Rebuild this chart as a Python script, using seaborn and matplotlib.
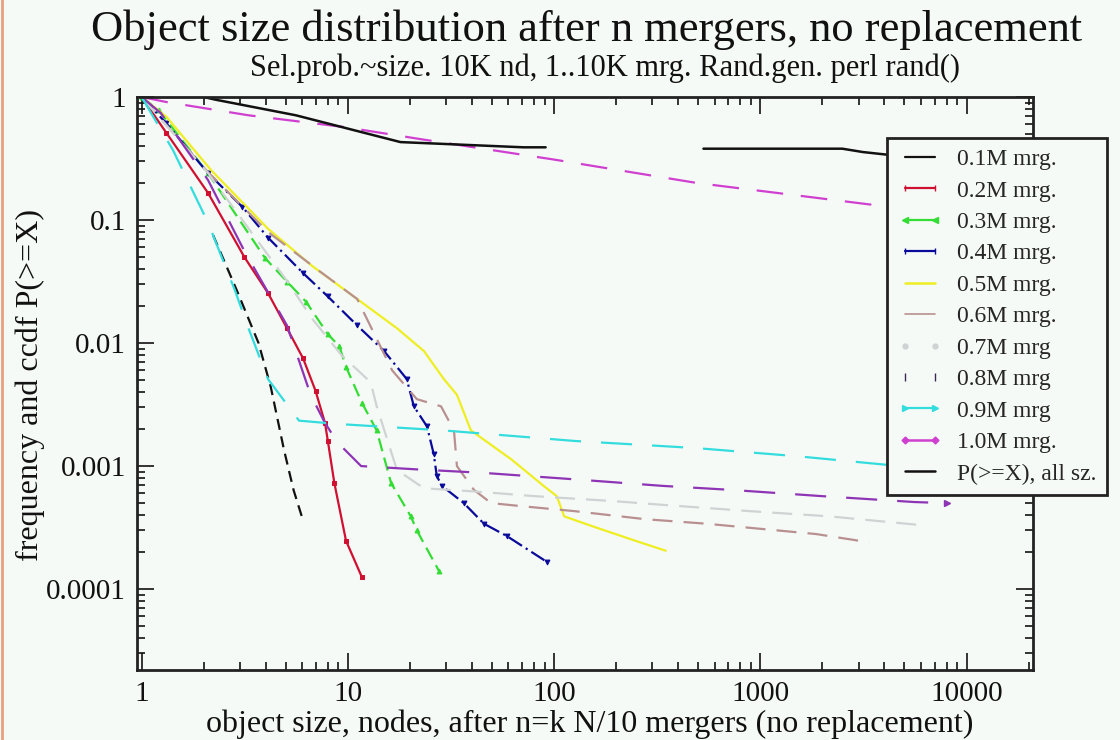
import numpy as np
import pandas as pd
import seaborn as sns
import matplotlib
matplotlib.use("Agg")
import matplotlib.pyplot as plt
from matplotlib.lines import Line2D
from matplotlib.ticker import FixedLocator, LogLocator, NullFormatter

# ---- data (x = object size, y = frequency / ccdf) ----
x_01 = [2.22, 2.89, 3.69, 4.23, 4.91, 5.46, 6.07]
y_01 = [0.0756, 0.027, 0.01, 0.0044, 0.00134, 0.000636, 0.00036]

x_02 = [1.0, 1.32, 2.1, 3.15, 4.1, 5.07, 6.07, 6.97, 7.75, 8.0, 8.6, 9.8, 11.7]
y_02 = [1.0, 0.51, 0.166, 0.05, 0.0255, 0.0132, 0.0075, 0.0041, 0.00224, 0.0016, 0.00073, 0.000247, 0.000125]

x_03 = [1.0, 1.21, 2.1, 3.97, 5.07, 6.27, 8.0, 9.1, 9.8, 11.7, 13.8, 16.2, 20.2, 21.6, 27.7]
y_03 = [1.0, 0.78, 0.24, 0.049, 0.0316, 0.0217, 0.0118, 0.0094, 0.0064, 0.00327, 0.00195, 0.00073, 0.00039, 0.0003, 0.00014]

x_04 = [1.0, 1.32, 2.1, 3.08, 4.1, 6.07, 8.0, 11.1, 15.0, 19.3, 20.9, 24.2, 26.1, 27.0, 28.6, 36.5, 45.7, 59.0, 92.5]
y_04 = [1.0, 0.61, 0.24, 0.128, 0.072, 0.037, 0.0239, 0.0139, 0.0086, 0.0051, 0.00306, 0.0021, 0.00125, 0.00083, 0.00069, 0.0005, 0.00034, 0.00027, 0.000166]

x_05 = [1.0, 1.32, 2.17, 4.1, 6.75, 11.1, 17.3, 23.4, 29.2, 33.8, 39.5, 61.8, 89.0, 103.0, 112.0, 157.0, 248.0, 348.0]
y_05 = [1.0, 0.69, 0.255, 0.085, 0.042, 0.0228, 0.0132, 0.0086, 0.0051, 0.0038, 0.00195, 0.00114, 0.00069, 0.00057, 0.00039, 0.00032, 0.000247, 0.000205]

x_06 = [1.0, 2.1, 4.1, 7.2, 11.1, 16.4, 21.6, 28.3, 32.7, 33.8, 40.9, 49.5, 71.5, 126.0, 277.0, 548.0, 1870.0, 3370.0]
y_06 = [1.0, 0.245, 0.08, 0.039, 0.0228, 0.006, 0.0035, 0.00306, 0.00195, 0.001, 0.00064, 0.0005, 0.00047, 0.00043, 0.00037, 0.00034, 0.00028, 0.00024]

x_07 = [1.0, 2.1, 5.07, 6.75, 9.3, 12.9, 13.8, 17.3, 23.4, 42.3, 80.0, 191.0, 360.0, 893.0, 2170.0, 6150.0]
y_07 = [1.0, 0.24, 0.032, 0.0156, 0.008, 0.0048, 0.00306, 0.00093, 0.00066, 0.00062, 0.00057, 0.00052, 0.00048, 0.00043, 0.00039, 0.00033]

x_08 = [1.0, 1.24, 2.1, 3.15, 5.07, 6.6, 7.75, 8.9, 11.6, 21.6, 45.7, 126.0, 337.0, 728.0, 1980.0, 5600.0, 8000.0]
y_08 = [1.0, 0.74, 0.211, 0.056, 0.0139, 0.0038, 0.00224, 0.00156, 0.001, 0.00094, 0.00088, 0.00078, 0.00069, 0.00064, 0.00057, 0.00051, 0.0005]

x_09 = [1.0, 1.42, 2.1, 2.83, 3.32, 4.1, 5.8, 8.9, 29.0, 126.0, 490.0, 1530.0, 4200.0, 9700.0]
y_09 = [1.0, 0.37, 0.095, 0.027, 0.0128, 0.0051, 0.00234, 0.0022, 0.00195, 0.0016, 0.0014, 0.0012, 0.00102, 0.00094]

x_10 = [1.0, 1.32, 3.3, 9.6, 23.4, 100.0, 493.0, 4200.0, 9900.0]
y_10 = [1.0, 0.91, 0.71, 0.57, 0.45, 0.31, 0.20, 0.128, 0.105]

# P(>=X), all sizes: two pieces with a gap between ~90 and ~530
x_all_a = [2.0, 2.29, 5.6, 18.0, 71.0, 91.0]
y_all_a = [1.0, 0.95, 0.71, 0.43, 0.39, 0.39]
x_all_b = [530.0, 2500.0, 3140.0, 4100.0, 9000.0]
y_all_b = [0.38, 0.38, 0.357, 0.34, 0.33]

labels = ["0.1M mrg.", "0.2M mrg.", "0.3M mrg.", "0.4M mrg.", "0.5M mrg.",
          "0.6M mrg.", "0.7M mrg", "0.8M mrg", "0.9M mrg", "1.0M mrg.",
          "P(>=X), all sz."]

BG = "#f6faf7"
sns.set_theme(style="ticks")
plt.rcParams["font.family"] = ["Liberation Serif", "DejaVu Serif"]

fig = plt.figure(figsize=(11.2, 7.4), dpi=100, facecolor=BG)
ax = fig.add_axes([137 / 1120, 1 - 670 / 740, (1033 - 137) / 1120, (670 - 97) / 740])
ax.set_facecolor(BG)
ax.set_xscale("log")
ax.set_yscale("log")

# (x, y, color, linestyle, marker, markersize)
series = [
    (x_01, y_01, "#111111", (0, (5, 3)), None, 0),
    (x_02, y_02, "#d01030", "-", "s", 3),
    (x_03, y_03, "#33dd33", (0, (6, 3)), "^", 3.5),
    (x_04, y_04, "#0a0a9a", (0, (7, 2, 1, 2)), "v", 3.5),
    (x_05, y_05, "#eeee22", "-", None, 0),
    (x_06, y_06, "#b89090", (0, (9, 5)), None, 0),
    (x_07, y_07, "#cfd3d3", (0, (9, 5)), None, 0),
    (x_08, y_08, "#8e35b5", (0, (14, 9)), None, 0),
    (x_09, y_09, "#33dddd", (0, (14, 9)), None, 0),
    (x_10, y_10, "#d040d0", (0, (12, 8)), None, 0),
]
for xs, ys, col, ls, mk, ms in series:
    sns.lineplot(x=xs, y=ys, ax=ax, color=col, linestyle=ls, linewidth=1.6,
                 marker=mk, markersize=ms, markeredgecolor=col, sort=False,
                 estimator=None, legend=False)

for xs, ys in [(x_all_a, y_all_a), (x_all_b, y_all_b)]:
    sns.lineplot(x=xs, y=ys, ax=ax, color="#111111", linewidth=1.8,
                 sort=False, estimator=None, legend=False)

# end arrow of the 0.8M curve
ax.plot([x_08[-1]], [y_08[-1]], marker=">", color="#8e35b5", markersize=5)

ax.set_xlim(0.95, 21000)
ax.set_ylim(2.2e-5, 1.0)

ax.xaxis.set_major_locator(FixedLocator([1, 10, 100, 1000, 10000]))
ax.set_xticklabels(["1", "10", "100", "1000", "10000"])
ax.yaxis.set_major_locator(FixedLocator([1, 0.1, 0.01, 0.001, 0.0001]))
ax.set_yticklabels(["1", "0.1", "0.01", "0.001", "0.0001"])
for axis in (ax.xaxis, ax.yaxis):
    axis.set_minor_locator(LogLocator(base=10, subs=np.arange(2, 10), numticks=20))
    axis.set_minor_formatter(NullFormatter())

ax.tick_params(which="both", direction="in", top=True, right=True,
               colors="#111111", labelsize=21, width=1.2, pad=8)
ax.tick_params(which="major", length=12)
ax.tick_params(which="minor", length=6)
for sp in ax.spines.values():
    sp.set_color("#222222")
    sp.set_linewidth(2)

ax.set_xlabel("")
ax.set_ylabel("")
fig.text(30 / 1120, 1 - 385 / 740, "frequency and ccdf P(>=X)", rotation=90,
         ha="center", va="center", fontsize=23, color="#111111")
fig.text(590 / 1120, 1 - 724 / 740, "object size, nodes, after n=k N/10 mergers (no replacement)",
         ha="center", va="center", fontsize=23, color="#111111")

fig.text(587 / 1120, 1 - 30 / 740, "Object size distribution after n mergers, no replacement",
         ha="center", va="center", fontsize=32, color="#111111")
fig.text(605 / 1120, 1 - 68 / 740, "Sel.prob.~size. 10K nd, 1..10K mrg. Rand.gen. perl rand()",
         ha="center", va="center", fontsize=22, color="#111111")

# legend with the reference's small handle glyphs
handles = [
    Line2D([], [], color="#111111", lw=1.6),
    Line2D([], [], color="#d01030", lw=1.6, marker="|", ms=4),
    Line2D([], [], color="#33dd33", lw=1.6, marker="<", ms=4),
    Line2D([], [], color="#0a0a9a", lw=1.6, marker="|", ms=4),
    Line2D([], [], color="#eeee22", lw=1.8),
    Line2D([], [], color="#b89090", lw=1.2),
    Line2D([], [], color="#cfd3d3", lw=0, marker="o", ms=3.5, linestyle="none"),
    Line2D([], [], color="#3a2a50", lw=0, marker="|", ms=6, linestyle="none"),
    Line2D([], [], color="#33dddd", lw=1.6, marker=">", ms=4),
    Line2D([], [], color="#d040d0", lw=1.8, marker="D", ms=3.5),
    Line2D([], [], color="#111111", lw=1.8),
]
leg = fig.legend(handles, labels, loc="upper left", bbox_to_anchor=(887 / 1120, 1 - 138 / 740),
                 fontsize=17, numpoints=2, handlelength=1.9, handletextpad=0.6,
                 labelspacing=0.42, borderpad=0.45, borderaxespad=0, fancybox=False,
                 framealpha=1, facecolor=BG, edgecolor="#222222")
leg.get_frame().set_linewidth(2)

# thin orange edge on the left like the screenshot
fig.add_artist(Line2D([0.002, 0.002], [0, 1], color="#e8a080", lw=2, transform=fig.transFigure))

fig.savefig("out.png", dpi=100, facecolor=BG)
